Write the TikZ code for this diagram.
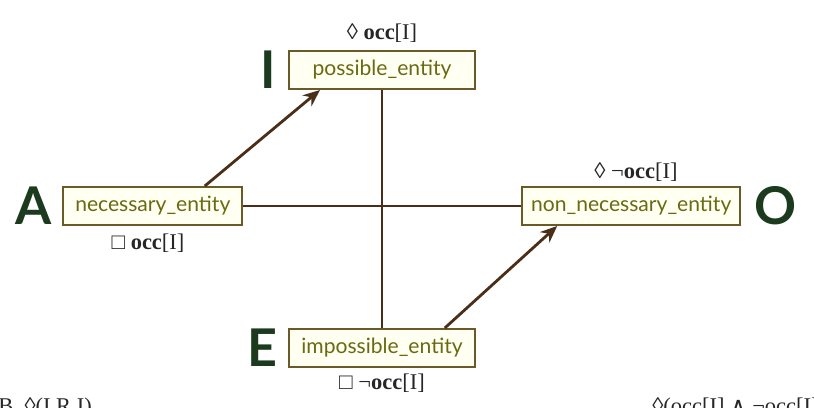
\documentclass[tikz,border=0pt]{standalone}
\usepackage{fontspec}
\setmainfont{Liberation Serif}
\newfontfamily\lato{Lato}
\newfontfamily\dejavu{DejaVu Serif}
\usetikzlibrary{arrows.meta}
\definecolor{boxline}{HTML}{6B5A28}
\definecolor{boxfill}{HTML}{FFFFF2}
\definecolor{boxtext}{HTML}{6B6A12}
\definecolor{cornerletter}{HTML}{1C3A1E}
\definecolor{linkcol}{HTML}{4A2E18}
\tikzset{
	entity/.style={draw=boxline, fill=boxfill, line width=1.4pt, text=boxtext,
		font=\lato\fontsize{15}{17}\selectfont, minimum height=0.95cm, inner xsep=2pt},
	corner/.style={text=cornerletter, font=\lato\bfseries\fontsize{37}{40}\selectfont},
	modal/.style={text=black!85, font=\fontsize{16}{18}\selectfont},
	link/.style={draw=linkcol, line width=2pt},
	imply/.style={link, -{Stealth[length=12pt,width=10pt]}}
}
\newcommand{\occ}{\textbf{occ}[I]}

\begin{document}
\begin{tikzpicture}
		\useasboundingbox (0,0) rectangle (20.35,10.2);
		\draw (9.55,8.45) node [entity, minimum width=4.65cm] (I) {possible\_entity};
		\draw (3.82,5.05) node [entity, minimum width=4.48cm] (A) {necessary\_entity};
		\draw (15.78,5.05) node [entity, minimum width=5.45cm] (O) {non\_necessary\_entity};
		\draw (9.55,1.5) node [entity, minimum width=4.63cm] (E) {impossible\_entity};
		\draw (6.7,8.45) node [corner] (LI) {I};
		\draw (0.83,5.05) node [corner] (LA) {A};
		\draw (19.4,5.05) node [corner] (LO) {O};
		\draw (6.55,1.5) node [corner] (LE) {E};
		\draw (9.55,9.38) node [modal] (MI) {◊ \occ};
		\draw (3.7,4.13) node [modal] (MA) {□ \occ};
		\draw (15.9,5.9) node [modal] (MO) {◊ ¬\occ};
		\draw (9.55,0.63) node [modal] (ME) {□ ¬\occ};
		\draw (-0.05,-0.13) node [modal, anchor=base west, inner sep=0pt] (BL) {B. ◊(I,R,I)};
		\draw (16.3,-0.13) node [modal, anchor=base west, inner sep=0pt] (BR) {◊(occ[I] {\dejavu ∧} ¬occ[I])};
		\draw [link]
		(I) -- (E)
		(A) -- (O);
		\draw [imply] (A.north -| 5.12,0) -- (I.south -| 8.0,0);
		\draw [imply] (E.north -| 11.12,0) -- (O.south -| 13.93,0);
	\end{tikzpicture}
\end{document}
